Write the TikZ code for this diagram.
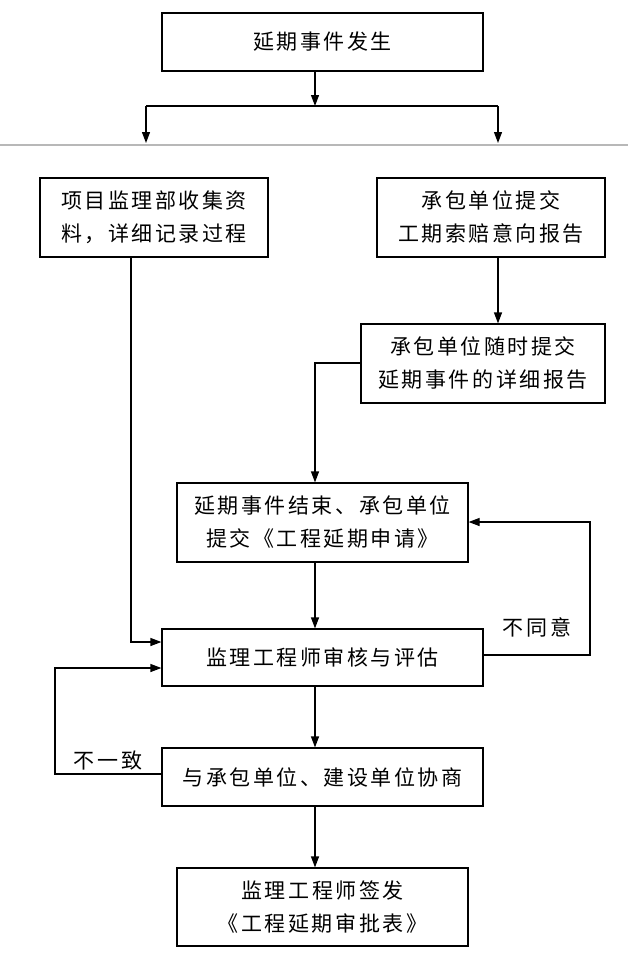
\documentclass[tikz,border=0pt]{standalone}
\usepackage{fontspec}
\newfontfamily\cjk[LetterSpace=12]{Noto Sans CJK SC}
\usetikzlibrary{arrows.meta}
\begin{document}
\begin{tikzpicture}[x=1pt,y=-1pt,
  box/.style={draw,line width=1.2pt,align=center,inner sep=0pt,font=\cjk\fontsize{21}{33}\selectfont},
  lbl/.style={inner sep=0pt,font=\cjk\fontsize{21}{33}\selectfont},
  conn/.style={line width=1.2pt},
  arr/.style={line width=1.2pt,-{Triangle[length=11pt,width=8pt]}},
  sep/.style={line width=2.5pt,color=black!28}]
\useasboundingbox[fill=white] (0,0) rectangle (628,958);
\node[box,minimum width=321,minimum height=58] (b1) at (322.5,42) {延期事件发生};
\node[box,minimum width=228,minimum height=79] (b2) at (154,217.5) {项目监理部收集资\\料，详细记录过程};
\node[box,minimum width=228,minimum height=79] (b3) at (491,217.5) {承包单位提交\\工期索赔意向报告};
\node[box,minimum width=244,minimum height=79] (b4) at (483,363.5) {承包单位随时提交\\延期事件的详细报告};
\node[box,minimum width=291,minimum height=79] (b5) at (322.5,522.5) {延期事件结束、承包单位\\提交《工程延期申请》};
\node[box,minimum width=321,minimum height=57] (b6) at (322.5,657.5) {监理工程师审核与评估};
\node[box,minimum width=321,minimum height=58] (b7) at (322.5,777) {与承包单位、建设单位协商};
\node[box,minimum width=291,minimum height=78] (b8) at (322.5,907) {监理工程师签发\\《工程延期审批表》};
\node[lbl] (t1) at (537,627) {不同意};
\node[lbl] (t2) at (108,761) {不一致};
% separator
\coordinate (g1) at (0,145);
\coordinate (g2) at (628,145);
\draw[sep] (g1) -- (g2);
% junctions
\coordinate (j1) at (315,106);
\coordinate (jl) at (146,106);
\coordinate (jr) at (498,106);
\coordinate (el) at (146,143);
\coordinate (er) at (498,143);
\coordinate (l1) at (131,642);
\coordinate (m1) at (315,363);
\coordinate (r1) at (590,655);
\coordinate (r2) at (590,522);
\coordinate (q1) at (55,774);
\coordinate (q2) at (55,668);
\draw[arr] (b1.south -| j1) -- (j1);
\draw[conn] (jl) -- (jr);
\draw[arr] (jl) -- (el);
\draw[arr] (jr) -- (er);
\draw[arr] (b2.south -| l1) -- (l1) -- (b6.west |- l1);
\draw[arr] (b3.south -| jr) -- (b4.north -| jr);
\draw[arr] (b4.west |- m1) -- (m1) -- (b5.north -| m1);
\draw[arr] (b5.south -| m1) -- (b6.north -| m1);
\draw[arr] (b6.east |- r1) -- (r1) -- (r2) -- (b5.east |- r2);
\draw[arr] (b6.south -| m1) -- (b7.north -| m1);
\draw[arr] (b7.west |- q1) -- (q1) -- (q2) -- (b6.west |- q2);
\draw[arr] (b7.south -| m1) -- (b8.north -| m1);
\end{tikzpicture}
\end{document}
